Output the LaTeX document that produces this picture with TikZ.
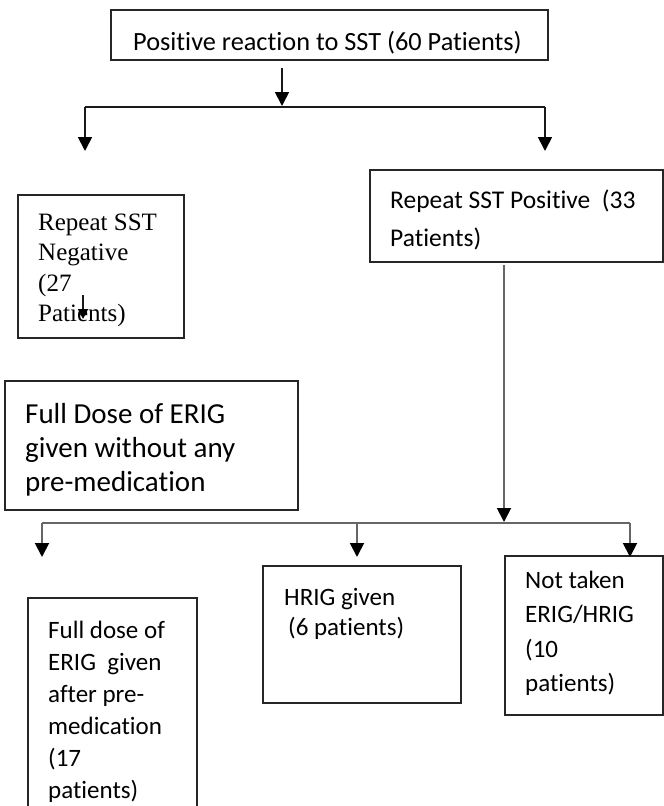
\documentclass[tikz,border=0pt]{standalone}
\usepackage{fontspec}
\setmainfont{Carlito}[Ligatures=NoCommon]
\newfontfamily\camb{Liberation Serif}
\usetikzlibrary{arrows.meta}
\begin{document}
\begin{tikzpicture}[x=1pt,y=-1pt,
  box/.style={draw=black!85, line width=1.4pt, inner sep=0pt, outer sep=0pt},
  txt/.style={anchor=base west, align=flush left, inner sep=0pt, text width=#1},
  conn/.style={line width=1.8pt, draw=black!90},
  greyconn/.style={line width=1.9pt, draw=black!60},
  arr/.style={conn, -{Triangle[width=14pt,length=14pt,color=black]}},
  smallarr/.style={conn, -{Triangle[width=10pt,length=10pt,color=black]}},
  greyarr/.style={greyconn, -{Triangle[width=14pt,length=14pt,color=black]}}]
\useasboundingbox (0,0) rectangle (664,806);
\clip (0,0) rectangle (664,806);
\fill[white] (0,0) rectangle (664,806);

% boxes
\node[box, minimum width=437pt, minimum height=50pt] (top) at (329.5,35) {};
\node[box, minimum width=166pt, minimum height=143pt] (neg) at (101,266.5) {};
\node[box, minimum width=293pt, minimum height=129pt] (fulldose) at (151.5,445.5) {};
\node[box, minimum width=293pt, minimum height=92pt] (pos) at (516.5,216) {};
\node[box, minimum width=169pt, minimum height=222pt] (premed) at (112.5,709) {};
\node[box, minimum width=198pt, minimum height=137pt] (hrig) at (362,634.5) {};
\node[box, minimum width=158pt, minimum height=159pt] (nottaken) at (584,635.5) {};

% texts
\node[txt=420pt, font=\fontsize{26.3}{32}\selectfont] (toptxt) at (133,50) {Positive reaction to SST (60 Patients)};
\node[txt=150pt, font=\camb\fontsize{25}{30.5}\selectfont] (negtxt) at (38,230) {Repeat SST\\Negative\\(27\\Patients)};
\node[txt=280pt, font=\fontsize{29}{34}\selectfont] (fulldosetxt) at (25,423) {Full Dose of ERIG\\given without any\\pre-medication};
\node[txt=280pt, font=\fontsize{25.5}{38}\selectfont] (postxt) at (390,208) {Repeat SST Positive\ \ (33\\Patients)};
\node[txt=180pt, font=\fontsize{25}{30}\selectfont] (hrigtxt) at (284,605) {HRIG given\\\hspace*{4pt}(6 patients)};
\node[txt=140pt, font=\fontsize{25}{34.5}\selectfont] (nottakentxt) at (525,588) {Not taken\\ERIG/HRIG\\(10\\patients)};
\node[txt=150pt, font=\fontsize{25}{32}\selectfont] (premedtxt) at (48,638) {Full dose of\\ERIG\ \ given\\after pre-\\medication\\(17\\patients)};

% connector coordinates
\coordinate (t1) at (282,68);
\coordinate (t2) at (282,106);
\coordinate (bl) at (85,107);
\coordinate (br) at (545,107);
\coordinate (blend) at (85,151);
\coordinate (brend) at (545,151);
\coordinate (n1) at (83,295);
\coordinate (n2) at (83,319);
\coordinate (p1) at (504,265);
\coordinate (p2) at (504,522);
\coordinate (hl) at (42,523);
\coordinate (hm) at (357,523);
\coordinate (hr) at (630,523);
\coordinate (hlend) at (42,557);
\coordinate (hmend) at (357,557);
\coordinate (hrend) at (630,557);

% connectors
\draw[arr] (t1) -- (t2);
\draw[conn] (bl) -- (br);
\draw[arr] (bl) -- (blend);
\draw[arr] (br) -- (brend);
\draw[smallarr] (n1) -- (n2);
\draw[greyarr] (p1) -- (p2);
\draw[greyconn] (hl) -- (hr);
\draw[greyarr] (hl) -- (hlend);
\draw[greyarr] (hm) -- (hmend);
\draw[greyarr] (hr) -- (hrend);
\end{tikzpicture}
\end{document}
